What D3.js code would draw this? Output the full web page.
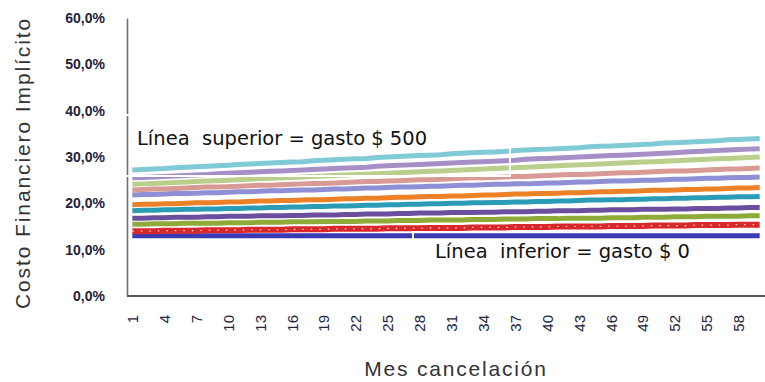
<!DOCTYPE html>
<html>
<head>
<meta charset="utf-8">
<script src="https://cdn.jsdelivr.net/npm/d3@7"></script>
<style>
  body { margin: 0; background: #fff; }
  svg { display: block; }
</style>
</head>
<body>
<svg id="chart" width="765" height="382"></svg>
<script>
// Cancellation month (1..60) and the labelled ticks on the x axis
const months = d3.range(1, 61);
const xTickLabels = [1, 4, 7, 10, 13, 16, 19, 22, 25, 28, 31, 34, 37, 40, 43, 46, 49, 52, 55, 58];
const yTicks = [0, 10, 20, 30, 40, 50, 60];

// Implicit financial cost (%) per cancellation month, one series per expense level
const gasto0 = [13.0,13.0,13.0,13.0,13.0,13.0,13.0,13.0,13.0,13.0,13.0,13.0,13.0,13.0,13.0,13.0,13.0,13.0,13.0,13.0,
  13.0,13.0,13.0,13.0,13.0,13.0,13.0,13.0,13.0,13.0,13.0,13.0,13.0,13.0,13.0,13.0,13.0,13.0,13.0,13.0,
  13.0,13.0,13.0,13.0,13.0,13.0,13.0,13.0,13.0,13.0,13.0,13.0,13.0,13.0,13.0,13.0,13.0,13.0,13.0,13.0];
const gasto50 = [14.0,14.0,14.0,14.1,14.1,14.1,14.1,14.2,14.2,14.2,14.2,14.3,14.3,14.3,14.3,14.4,14.4,14.4,14.4,14.5,
  14.5,14.5,14.5,14.5,14.6,14.6,14.6,14.6,14.7,14.7,14.7,14.7,14.8,14.8,14.8,14.8,14.9,14.9,14.9,14.9,
  15.0,15.0,15.0,15.0,15.0,15.1,15.1,15.1,15.1,15.2,15.2,15.2,15.2,15.3,15.3,15.3,15.3,15.4,15.4,15.4];
const gasto100 = [15.5,15.5,15.6,15.6,15.6,15.7,15.7,15.7,15.7,15.8,15.8,15.8,15.9,15.9,15.9,16.0,16.0,16.0,16.1,16.1,
  16.1,16.1,16.2,16.2,16.2,16.3,16.3,16.3,16.4,16.4,16.4,16.4,16.5,16.5,16.5,16.6,16.6,16.6,16.7,16.7,
  16.7,16.8,16.8,16.8,16.8,16.9,16.9,16.9,17.0,17.0,17.0,17.1,17.1,17.1,17.2,17.2,17.2,17.2,17.3,17.3];
const gasto150 = [16.8,16.8,16.9,16.9,17.0,17.0,17.0,17.1,17.1,17.2,17.2,17.2,17.3,17.3,17.3,17.4,17.4,17.5,17.5,17.5,
  17.6,17.6,17.7,17.7,17.7,17.8,17.8,17.9,17.9,17.9,18.0,18.0,18.0,18.1,18.1,18.2,18.2,18.2,18.3,18.3,
  18.4,18.4,18.4,18.5,18.5,18.6,18.6,18.6,18.7,18.7,18.7,18.8,18.8,18.9,18.9,18.9,19.0,19.0,19.1,19.1];
const gasto200 = [18.4,18.5,18.5,18.6,18.6,18.7,18.7,18.8,18.8,18.9,18.9,19.0,19.0,19.1,19.1,19.2,19.2,19.3,19.3,19.4,
  19.4,19.5,19.6,19.6,19.7,19.7,19.8,19.8,19.9,19.9,20.0,20.0,20.1,20.1,20.2,20.2,20.3,20.3,20.4,20.4,
  20.5,20.5,20.6,20.7,20.7,20.8,20.8,20.9,20.9,21.0,21.0,21.1,21.1,21.2,21.2,21.3,21.3,21.4,21.4,21.5];
const gasto250 = [19.7,19.8,19.8,19.9,19.9,20.0,20.1,20.1,20.2,20.3,20.3,20.4,20.5,20.5,20.6,20.6,20.7,20.8,20.8,20.9,
  21.0,21.0,21.1,21.1,21.2,21.3,21.3,21.4,21.5,21.5,21.6,21.6,21.7,21.8,21.8,21.9,22.0,22.0,22.1,22.1,
  22.2,22.3,22.3,22.4,22.5,22.5,22.6,22.6,22.7,22.8,22.8,22.9,23.0,23.0,23.1,23.1,23.2,23.3,23.3,23.4];
const gasto300 = [21.8,21.9,21.9,22.0,22.1,22.1,22.2,22.3,22.3,22.4,22.5,22.5,22.6,22.7,22.7,22.8,22.9,22.9,23.0,23.1,
  23.1,23.2,23.3,23.3,23.4,23.5,23.5,23.6,23.7,23.7,23.8,23.9,23.9,24.0,24.1,24.1,24.2,24.2,24.3,24.4,
  24.4,24.5,24.6,24.6,24.7,24.8,24.8,24.9,25.0,25.0,25.1,25.2,25.2,25.3,25.4,25.4,25.5,25.6,25.6,25.7];
const gasto350 = [22.9,23.0,23.1,23.1,23.2,23.3,23.4,23.5,23.5,23.6,23.7,23.8,23.9,23.9,24.0,24.1,24.2,24.3,24.3,24.4,
  24.5,24.6,24.7,24.7,24.8,24.9,25.0,25.1,25.1,25.2,25.3,25.4,25.5,25.5,25.6,25.7,25.8,25.8,25.9,26.0,
  26.1,26.2,26.2,26.3,26.4,26.5,26.6,26.6,26.7,26.8,26.9,27.0,27.0,27.1,27.2,27.3,27.4,27.4,27.5,27.6];
const gasto400 = [24.1,24.2,24.3,24.4,24.5,24.6,24.7,24.8,24.9,25.0,25.1,25.2,25.3,25.4,25.5,25.6,25.7,25.8,25.9,26.0,
  26.1,26.2,26.3,26.4,26.5,26.6,26.7,26.8,26.9,27.0,27.1,27.2,27.3,27.4,27.5,27.6,27.7,27.8,27.9,28.0,
  28.1,28.2,28.3,28.4,28.5,28.6,28.7,28.8,28.9,29.0,29.1,29.2,29.3,29.4,29.5,29.6,29.7,29.8,29.9,30.0];
const gasto450 = [25.5,25.6,25.7,25.8,25.9,26.0,26.1,26.2,26.4,26.5,26.6,26.7,26.8,26.9,27.0,27.1,27.2,27.3,27.4,27.5,
  27.6,27.7,27.8,28.0,28.1,28.2,28.3,28.4,28.5,28.6,28.7,28.8,28.9,29.0,29.1,29.2,29.3,29.5,29.6,29.7,
  29.8,29.9,30.0,30.1,30.2,30.3,30.4,30.5,30.6,30.7,30.8,30.9,31.1,31.2,31.3,31.4,31.5,31.6,31.7,31.8];
const gasto500 = [27.2,27.3,27.4,27.5,27.7,27.8,27.9,28.0,28.1,28.2,28.4,28.5,28.6,28.7,28.8,28.9,29.0,29.2,29.3,29.4,
  29.5,29.6,29.7,29.9,30.0,30.1,30.2,30.3,30.4,30.5,30.7,30.8,30.9,31.0,31.1,31.2,31.4,31.5,31.6,31.7,
  31.8,31.9,32.0,32.2,32.3,32.4,32.5,32.6,32.7,32.8,33.0,33.1,33.2,33.3,33.4,33.5,33.7,33.8,33.9,34.0];

const seriesNames = ["gasto $ 0", "gasto $ 50", "gasto $ 100", "gasto $ 150", "gasto $ 200", "gasto $ 250",
  "gasto $ 300", "gasto $ 350", "gasto $ 400", "gasto $ 450", "gasto $ 500"];
const seriesValues = [gasto0, gasto50, gasto100, gasto150, gasto200, gasto250,
  gasto300, gasto350, gasto400, gasto450, gasto500];
const palette = ["#3a3ab4", "#d8282c", "#8eab3a", "#6b4f9e", "#2a9cb6", "#ec8128",
  "#8f8fd6", "#d99a95", "#b9cf8b", "#a58fc6", "#80c9d7"];

const svg = d3.select("#chart");
const plotLeft = 127, plotRight = 765, plotBottom = 296, plotTop = 18;

const x = d3.scalePoint().domain(months).range([plotLeft, plotRight]).padding(0.5);
const y = d3.scaleLinear().domain([0, 60]).range([plotBottom, plotTop]);

// Series lines
const line = d3.line()
  .x((d, i) => x(months[i]))
  .y(d => y(d));

const series = seriesNames.map((name, k) => ({ name, values: seriesValues[k], color: palette[k] }));

svg.append("g")
  .selectAll("path")
  .data(series)
  .join("path")
  .attr("d", d => line(d.values))
  .attr("fill", "none")
  .attr("stroke", d => d.color)
  .attr("stroke-width", d => d.name === "gasto $ 50" ? 6 : 5);

// Small white markers running along the $ 50 line
svg.append("path")
  .attr("d", line(gasto50))
  .attr("fill", "none")
  .attr("stroke", "#fff")
  .attr("stroke-width", 1.2)
  .attr("stroke-dasharray", "1.5,7")
  .attr("opacity", 0.85);

// Y axis
const fmt = d => d3.format(".1f")(d).replace(".", ",") + "%";
const yAxis = svg.append("g")
  .attr("transform", `translate(${plotLeft},0)`)
  .call(d3.axisLeft(y).tickValues(yTicks).tickFormat(fmt).tickSize(0).tickSizeOuter(0).tickPadding(22));
yAxis.select(".domain").attr("stroke", "#6e6e6e").attr("stroke-width", 1.6);
yAxis.selectAll("text")
  .attr("font-family", "Liberation Sans, Arial, sans-serif")
  .attr("font-size", 14)
  .attr("font-weight", "bold")
  .attr("fill", "#23233a");

// X axis
const xAxis = svg.append("g")
  .attr("transform", `translate(0,${plotBottom})`)
  .call(d3.axisBottom(x).tickValues(xTickLabels).tickSize(0).tickSizeOuter(0));
xAxis.select(".domain")
  .attr("d", `M${plotLeft},0H765`)
  .attr("stroke", "#555")
  .attr("stroke-width", 2);
xAxis.selectAll("text")
  .attr("transform", "rotate(-90)")
  .attr("text-anchor", "end")
  .attr("x", -19)
  .attr("y", 0)
  .attr("dy", "0.35em")
  .attr("font-family", "Liberation Sans, Arial, sans-serif")
  .attr("font-size", 15)
  .attr("fill", "#23233a");

// Axis titles
svg.append("text")
  .attr("transform", "translate(30,163) rotate(-90)")
  .attr("text-anchor", "middle")
  .attr("font-family", "Liberation Sans, Arial, sans-serif")
  .attr("font-size", 21)
  .attr("letter-spacing", 1.9)
  .attr("fill", "#333")
  .text("Costo Financiero Implícito");

svg.append("text")
  .attr("x", 456)
  .attr("y", 376)
  .attr("text-anchor", "middle")
  .attr("font-family", "Liberation Sans, Arial, sans-serif")
  .attr("font-size", 21)
  .attr("letter-spacing", 1.8)
  .attr("fill", "#333")
  .text("Mes cancelación");

// Callout boxes for the upper and lower lines
svg.append("rect")
  .attr("x", 118).attr("y", 115).attr("width", 392).attr("height", 61)
  .attr("fill", "none").attr("stroke", "#fff").attr("stroke-width", 2);
svg.append("rect")
  .attr("x", 413).attr("y", 232).attr("width", 360).attr("height", 44)
  .attr("fill", "none").attr("stroke", "#fff").attr("stroke-width", 2);

svg.append("text")
  .attr("x", 137).attr("y", 145)
  .attr("font-family", "DejaVu Sans, sans-serif")
  .attr("font-size", 19.5)
  .attr("fill", "#111")
  .style("white-space", "pre")
  .text("Línea  superior = gasto $ 500");

svg.append("text")
  .attr("x", 435).attr("y", 258)
  .attr("font-family", "DejaVu Sans, sans-serif")
  .attr("font-size", 19.5)
  .attr("fill", "#111")
  .style("white-space", "pre")
  .text("Línea  inferior = gasto $ 0");
</script>
</body>
</html>
